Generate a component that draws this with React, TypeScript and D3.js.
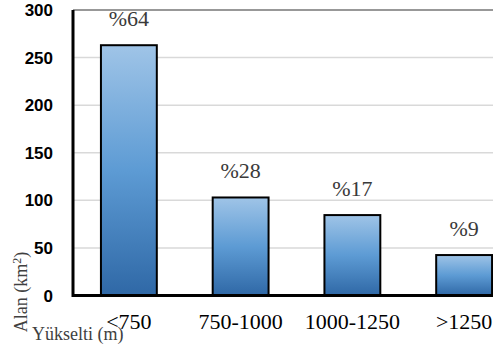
import React from "react";
import * as d3 from "d3";

const categories = ["<750", "750-1000", "1000-1250", ">1250"];
const areaValues = [263, 103, 84.5, 42.5];
const shareLabels = ["%64", "%28", "%17", "%9"];
const yTicks = [0, 50, 100, 150, 200, 250, 300];

const W = 493;
const H = 354;
const left = 73;
const right = 520;
const top = 10;
const bottom = 295.5;

const serif = "Liberation Serif";
const sans = "Liberation Sans";

export default function App() {
  const x = d3.scaleBand<string>().domain(categories).range([left, right]).paddingInner(0.5).paddingOuter(0.25);
  const y = d3.scaleLinear().domain([0, 300]).range([bottom, top]);

  return (
    <svg width={W} height={H} style={{ position: "absolute", left: 0, top: 0, background: "#fff" }}>
      <defs>
        <linearGradient id="barFill" x1="0" y1="0" x2="0" y2="1">
          <stop offset="0" stopColor="#9fc4e7" />
          <stop offset="0.5" stopColor="#5d9bd4" />
          <stop offset="1" stopColor="#2f68a6" />
        </linearGradient>
      </defs>
      {yTicks.filter((t) => t > 0 && t < 300).map((t) => (
        <line key={t} x1={left} x2={W} y1={y(t)} y2={y(t)} stroke="#d9d9d9" strokeWidth={1.5} />
      ))}
      <line x1={left} x2={W} y1={y(300)} y2={y(300)} stroke="#333" strokeWidth={1.2} />
      {categories.map((c, i) => (
        <g key={c}>
          <rect
            x={x(c)!}
            y={y(areaValues[i])}
            width={x.bandwidth()}
            height={bottom - y(areaValues[i])}
            fill="url(#barFill)"
            stroke="#000"
            strokeWidth={2}
          />
          <text
            x={x(c)! + x.bandwidth() / 2}
            y={y(areaValues[i]) - 19}
            textAnchor="middle"
            style={{ fontFamily: serif, fontSize: 22 }}
            fill="#3a3a3a"
          >
            {shareLabels[i]}
          </text>
          <text
            x={x(c)! + x.bandwidth() / 2}
            y={329}
            textAnchor="middle"
            style={{ fontFamily: serif, fontSize: 22 }}
            fill="#000"
          >
            {c}
          </text>
        </g>
      ))}
      <line x1={left} x2={left} y1={top} y2={bottom + 1.5} stroke="#000" strokeWidth={3} />
      <line x1={left} x2={W} y1={bottom} y2={bottom} stroke="#000" strokeWidth={3} />
      {yTicks.map((t) => (
        <text
          key={t}
          x={53}
          y={y(t) + 6}
          textAnchor="end"
          style={{ fontFamily: sans, fontWeight: "bold", fontSize: 17 }}
          fill="#000"
        >
          {t}
        </text>
      ))}
      <text
        transform="translate(27,292) rotate(-90)"
        textAnchor="middle"
        style={{ fontFamily: serif, fontSize: 18 }}
        fill="#404040"
      >
        Alan (km<tspan dy={-6} style={{ fontSize: 12 }}>2</tspan><tspan dy={6}>)</tspan>
      </text>
      <text x={32} y={340} style={{ fontFamily: serif, fontSize: 18 }} fill="#404040">
        Yükselti (m)
      </text>
    </svg>
  );
}
